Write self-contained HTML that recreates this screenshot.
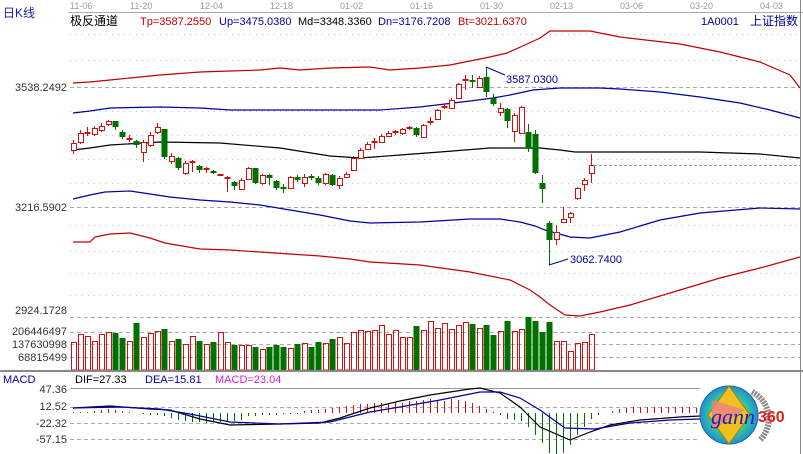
<!DOCTYPE html>
<html><head><meta charset="utf-8">
<style>
html,body{margin:0;padding:0;background:#fff;}
svg{display:block;font-family:"Liberation Sans","Noto Sans CJK SC",sans-serif;}
</style></head>
<body>
<svg width="803" height="454" viewBox="0 0 803 454" xmlns="http://www.w3.org/2000/svg">
<rect width="803" height="454" fill="#fff"/>
<!-- grid -->
<g stroke="#bbb" stroke-dasharray="1,5">
<line x1="70" y1="34.5" x2="800" y2="34.5"/><line x1="70" y1="60.5" x2="800" y2="60.5"/>
<line x1="70" y1="111.5" x2="800" y2="111.5"/><line x1="70" y1="135.5" x2="800" y2="135.5"/>
<line x1="70" y1="159.5" x2="800" y2="159.5"/><line x1="70" y1="183.5" x2="800" y2="183.5"/>
<line x1="70" y1="225.5" x2="800" y2="225.5"/><line x1="70" y1="251.5" x2="800" y2="251.5"/>
<line x1="70" y1="273.5" x2="800" y2="273.5"/><line x1="70" y1="295.5" x2="800" y2="295.5"/>
</g>
<g stroke="#aaa" stroke-dasharray="4,3">
<line x1="70" y1="87.5" x2="800" y2="87.5"/><line x1="70" y1="207.5" x2="800" y2="207.5"/>
<line x1="70" y1="317.5" x2="800" y2="317.5"/><line x1="70" y1="332.5" x2="800" y2="332.5"/>
<line x1="70" y1="344.5" x2="800" y2="344.5"/><line x1="70" y1="357.5" x2="800" y2="357.5"/>
<line x1="70" y1="407.5" x2="700" y2="407.5"/><line x1="70" y1="423.5" x2="700" y2="423.5"/>
<line x1="70" y1="439.5" x2="700" y2="439.5"/>
</g>
<line x1="70" y1="388.5" x2="700" y2="388.5" stroke="#999"/>
<!-- bands -->
<g fill="none" stroke-width="1.2">
<polyline stroke="#c00000" points="73,83 90,82 110,80 130,78 160,75 200,72 230,71 260,70 280,68 300,70 330,68 370,67 390,70 420,68 450,65 470,61 490,57 507,53 525,45 540,38 550,31 590,31 620,37 680,44 720,52 760,62 790,75 800,88"/>
<polyline stroke="#0000a0" points="73,113 90,111 110,108 160,107 200,108 230,110 270,110 300,110 340,110 380,110 420,107 470,101 493,98 510,95 533,90 560,88 600,88 620,89 660,92 700,97 740,103 770,110 800,118"/>
<polyline stroke="#000" points="73,150 90,148 110,145 160,142 220,143 280,148 330,156 360,158 400,155 440,152 490,148 520,148 540,148 560,150 575,152 620,152 700,152 760,154 800,158"/>
<polyline stroke="#0000a0" points="73,199 90,195 105,192 130,191 150,194 170,197 200,200 230,202 260,205 290,210 320,215 350,221 370,223 420,222 470,219 500,219 520,222 535,226 545,230 570,237 590,238 620,232 640,226 660,220 700,213 760,208 800,209"/>
<polyline stroke="#c00000" points="73,242 90,242 95,237 110,234 130,233 150,238 165,243 200,249 230,250 260,252 290,254 320,256 350,259 370,262 420,265 470,272 490,276 510,280 530,290 540,297 550,305 565,315 580,316 600,312 630,305 680,290 720,278 760,268 800,257"/>
</g>
<!-- candles -->
<path stroke="#d01010" fill="none" d="M73.5 140V154M80.5 130V144M87.5 127V136M94.5 126V136M101.5 123V132M108.5 120V126M129.5 135V142M143.5 140V162M150.5 132V147M157.5 123V134M171.5 153V164M185.5 161V175M192.5 160V172M206.5 167V173M220.5 174V176M227.5 176V192M241.5 178V190M248.5 167V180M262.5 174V185M290.5 176V189M304.5 174V187M325.5 173V185M339.5 176V189M346.5 172V178M353.5 156V171M360.5 148V159M367.5 142V150M374.5 138V149M381.5 134V143M388.5 131V137M395.5 130V135M402.5 128V135M409.5 126V130M423.5 124V138M430.5 117V125M437.5 109V120M444.5 104V109M451.5 98V109M458.5 83V99M465.5 75V90M479.5 76V88M500.5 103V116M514.5 113V142M521.5 106V134M556.5 225V245M563.5 207V223M570.5 212V223M577.5 187V200M584.5 178V191M591.5 154V183"/>
<path transform="translate(0.5,0)" stroke="#d01010" fill="#fff" d="M71 143.5h5v7h-5zM78 133.5h5v9h-5zM92 128.5h5v6h-5zM99 126.5h5v4h-5zM106 121.5h5v3h-5zM141 142.5h5v10h-5zM148 135.5h5v10h-5zM155 127.5h5v5h-5zM169 156.5h5v5h-5zM183 163.5h5v10h-5zM239 180.5h5v9h-5zM246 168.5h5v11h-5zM260 175.5h5v8h-5zM288 177.5h5v11h-5zM302 177.5h5v6h-5zM323 174.5h5v9h-5zM337 178.5h5v7h-5zM344 174.5h5v3h-5zM351 158.5h5v12h-5zM358 150.5h5v8h-5zM365 144.5h5v5h-5zM379 136.5h5v6h-5zM386 133.5h5v3h-5zM400 129.5h5v4h-5zM421 125.5h5v12h-5zM435 110.5h5v9h-5zM449 100.5h5v8h-5zM456 84.5h5v14h-5zM477 78.5h5v9h-5zM498 108.5h5v4h-5zM512 115.5h5v16h-5zM519 107.5h5v26h-5zM554 232.5h5v7h-5zM561 219.5h5v3h-5zM568 213.5h5v4h-5zM575 188.5h5v10h-5zM582 180.5h5v4h-5zM589 165.5h5v8h-5z"/>
<path stroke="#d01010" stroke-width="2" d="M84.5 133h6M126.5 139h6M189.5 162h6M203.5 169h6M217.5 175h6M224.5 178h6M371.5 142h6M392.5 132h6M406.5 128h6M427.5 122h6M441.5 107h6M462.5 80h6"/>
<path stroke="#007000" fill="none" d="M115.5 121V130M122.5 130V139M136.5 140V148M164.5 129V159M178.5 157V170M199.5 165V173M213.5 170V174M234.5 181V190M255.5 168V184M269.5 174V185M276.5 180V190M283.5 184V193M297.5 175V182M311.5 174V180M318.5 176V185M332.5 174V186M416.5 127V137M472.5 75V88M486.5 67V97M493.5 94V106M507.5 108V128M528.5 124V152M535.5 130V174M542.5 175V203M549.5 221V265"/>
<path fill="#007000" d="M112.5 121h6v6h-6zM119.5 132h6v5h-6zM133.5 141h6v4h-6zM161.5 129h6v28h-6zM175.5 158h6v10h-6zM196.5 166h6v4h-6zM231.5 182h6v4h-6zM252.5 168h6v15h-6zM266.5 175h6v3h-6zM273.5 181h6v7h-6zM294.5 177h6v3h-6zM315.5 178h6v5h-6zM329.5 175h6v10h-6zM413.5 128h6v7h-6zM483.5 77h6v15h-6zM490.5 98h6v6h-6zM504.5 109h6v12h-6zM525.5 132h6v16h-6zM532.5 134h6v39h-6zM539.5 183h6v6h-6zM546.5 223h6v17h-6z"/>
<path stroke="#007000" stroke-width="2" d="M210.5 172h6M280.5 188h6M308.5 177h6M469.5 81h6"/>
<!-- volume -->
<path transform="translate(0.5,0)" stroke="#d01010" fill="none" d="M71 342.5h5V370H71zM78 334.5h5V370H78zM85 336.5h5V370H85zM92 341.5h5V370H92zM99 334.5h5V370H99zM106 332.5h5V370H106zM127 341.5h5V370H127zM141 337.5h5V370H141zM148 333.5h5V370H148zM155 331.5h5V370H155zM169 341.5h5V370H169zM183 344.5h5V370H183zM190 336.5h5V370H190zM204 344.5h5V370H204zM218 332.5h5V370H218zM225 342.5h5V370H225zM239 345.5h5V370H239zM246 345.5h5V370H246zM260 349.5h5V370H260zM288 348.5h5V370H288zM302 343.5h5V370H302zM323 343.5h5V370H323zM337 337.5h5V370H337zM344 343.5h5V370H344zM351 332.5h5V370H351zM358 330.5h5V370H358zM365 331.5h5V370H365zM372 330.5h5V370H372zM379 325.5h5V370H379zM386 334.5h5V370H386zM393 330.5h5V370H393zM400 337.5h5V370H400zM407 337.5h5V370H407zM421 330.5h5V370H421zM428 321.5h5V370H428zM435 328.5h5V370H435zM442 323.5h5V370H442zM449 329.5h5V370H449zM456 325.5h5V370H456zM463 322.5h5V370H463zM477 328.5h5V370H477zM498 331.5h5V370H498zM512 331.5h5V370H512zM519 329.5h5V370H519zM554 341.5h5V370H554zM561 341.5h5V370H561zM568 351.5h5V370H568zM575 343.5h5V370H575zM582 342.5h5V370H582zM589 334.5h5V370H589z"/>
<path fill="#007000" d="M112.5 333h6V370h-6zM119.5 338h6V370h-6zM133.5 323h6V370h-6zM161.5 329h6V370h-6zM175.5 339h6V370h-6zM196.5 341h6V370h-6zM210.5 342h6V370h-6zM231.5 345h6V370h-6zM252.5 347h6V370h-6zM266.5 347h6V370h-6zM273.5 345h6V370h-6zM280.5 347h6V370h-6zM294.5 344h6V370h-6zM308.5 347h6V370h-6zM315.5 342h6V370h-6zM329.5 339h6V370h-6zM413.5 326h6V370h-6zM469.5 324h6V370h-6zM483.5 325h6V370h-6zM490.5 335h6V370h-6zM504.5 321h6V370h-6zM525.5 317h6V370h-6zM532.5 321h6V370h-6zM539.5 332h6V370h-6zM546.5 322h6V370h-6z"/>
<!-- macd histogram -->
<path stroke="#d01010" d="M73.5 413v-1M80.5 413v-1M87.5 413v-1M94.5 413v-2M101.5 413v-3M108.5 413v-4M115.5 413v-3M122.5 413v-2M129.5 413v-1M304.5 413v-2M311.5 413v-3M318.5 413v-3M325.5 413v-4M332.5 413v-5M339.5 413v-6M346.5 413v-7M353.5 413v-8M360.5 413v-9M367.5 413v-9M374.5 413v-10M381.5 413v-10M388.5 413v-10M395.5 413v-11M402.5 413v-10M409.5 413v-12M416.5 413v-12M423.5 413v-13M430.5 413v-14M437.5 413v-13M444.5 413v-12M451.5 413v-14M458.5 413v-13M465.5 413v-12M472.5 413v-10M479.5 413v-7M486.5 413v-4M493.5 413v-1M612.5 413v-2M619.5 413v-4M626.5 413v-5M633.5 413v-6M640.5 413v-6M647.5 413v-6M654.5 413v-6M661.5 413v-6M668.5 413v-6M675.5 413v-6M682.5 413v-6M689.5 413v-6M696.5 413v-5"/>
<path stroke="#007000" d="M143.5 413v1M150.5 413v2M157.5 413v2M164.5 413v3M171.5 413v5M178.5 413v7M185.5 413v8M192.5 413v9M199.5 413v9M206.5 413v10M213.5 413v9M220.5 413v9M227.5 413v9M234.5 413v8M241.5 413v7M248.5 413v3M255.5 413v3M262.5 413v2M269.5 413v2M276.5 413v2M283.5 413v1M290.5 413v1M297.5 413v1M500.5 413v2M507.5 413v6M514.5 413v7M521.5 413v8M528.5 413v14M535.5 413v22M542.5 413v30M549.5 413v40M556.5 413v41M563.5 413v40M570.5 413v32M577.5 413v22M584.5 413v14M591.5 413v6M598.5 413v2"/>
<polyline fill="none" stroke="#000" stroke-width="1.2" points="73,408 110,406 150,409 170,410 200,419 230,425 280,424 320,423 340,418 370,408 400,401 430,395 470,389 480,388 500,393 520,407 540,427 570,440 590,432 610,425 640,420 680,417 700,416"/>
<polyline fill="none" stroke="#0000a0" stroke-width="1.2" points="73,408 120,407 160,409 190,414 230,422 280,424 330,422 370,412 400,407 440,400 480,392 500,392 520,398 540,410 565,428 595,429 630,423 670,420 700,419"/>
<!-- header -->
<text x="3" y="17" font-size="12" fill="#1a1aa0">日K线</text>
<g font-size="9" fill="#999">
<text x="70" y="9">11-06</text><text x="130" y="9">11-20</text><text x="200" y="9">12-04</text>
<text x="270" y="9">12-18</text><text x="340" y="9">01-02</text><text x="410" y="9">01-16</text>
<text x="480" y="9">01-30</text><text x="550" y="9">02-13</text><text x="620" y="9">03-06</text>
<text x="690" y="9">03-20</text><text x="760" y="9">04-03</text>
</g>
<line x1="68" y1="12.5" x2="803" y2="12.5" stroke="#aaa"/>
<text x="70" y="25" font-size="12" fill="#000">极反通道</text>
<text x="140" y="25" font-size="11" fill="#c00000">Tp=3587.2550</text>
<text x="219" y="25" font-size="11" fill="#0000a0">Up=3475.0380</text>
<text x="298" y="25" font-size="11" fill="#000">Md=3348.3360</text>
<text x="378" y="25" font-size="11" fill="#0000a0">Dn=3176.7208</text>
<text x="458" y="25" font-size="11" fill="#c00000">Bt=3021.6370</text>
<text x="701" y="25" font-size="11" fill="#0000a0">1A0001</text>
<text x="750" y="25" font-size="12" fill="#0000a0">上证指数</text>
<g font-size="11" fill="#333" text-anchor="end">
<text x="67" y="91">3538.2492</text>
<text x="67" y="211">3216.5902</text>
<text x="67" y="314">2924.1728</text>
<text x="67" y="335">206446497</text>
<text x="67" y="348">137630998</text>
<text x="67" y="361">68815499</text>
<text x="67" y="393">47.36</text>
<text x="67" y="410">12.52</text>
<text x="67" y="427">-22.32</text>
<text x="67" y="443">-57.15</text>
</g>
<text x="3" y="383" font-size="11" fill="#0000a0">MACD</text>
<text x="75" y="383" font-size="11" fill="#000">DIF=27.33</text>
<text x="145" y="383" font-size="11" fill="#0000a0">DEA=15.81</text>
<text x="215" y="383" font-size="11" fill="#d020d0">MACD=23.04</text>
<line x1="0" y1="371" x2="803" y2="371" stroke="#888" stroke-width="2"/>
<line x1="800.5" y1="0" x2="800.5" y2="454" stroke="#888"/>
<polyline points="486,67 505,75" stroke="#0000a0" fill="none"/>
<text x="506" y="83" font-size="11" fill="#0000a0">3587.0300</text>
<polyline points="549,265 568,259" stroke="#0000a0" fill="none"/>
<text x="570" y="263" font-size="11" fill="#0000a0">3062.7400</text>
<line x1="594" y1="165.5" x2="800" y2="165.5" stroke="#999" stroke-dasharray="3,2"/>
<!-- logo -->
<defs><radialGradient id="lg" cx="0.5" cy="0.5" r="0.5"><stop offset="0" stop-color="#e8f060"/><stop offset="0.7" stop-color="#30c0a0"/><stop offset="1" stop-color="#2090d0"/></radialGradient></defs>
<circle cx="729" cy="415" r="29" fill="url(#lg)" stroke="#2060c0"/>
<polygon points="729,386 750,415 729,444 708,415" fill="#f0c020" stroke="#a08000"/>
<polygon points="712,400 745,410 712,430" fill="#f08080" opacity="0.8"/>
<path d="M752,392 A30,30 0 0 1 760,440" stroke="#888" stroke-dasharray="2,1" stroke-width="6" fill="none"/>
<text x="711" y="424" font-size="22" font-style="italic" font-family="Liberation Serif,serif" fill="#2020c0">gann</text>
<text x="758" y="422" font-size="16" font-weight="bold" fill="#e02020">360</text>
</svg>
</body></html>
